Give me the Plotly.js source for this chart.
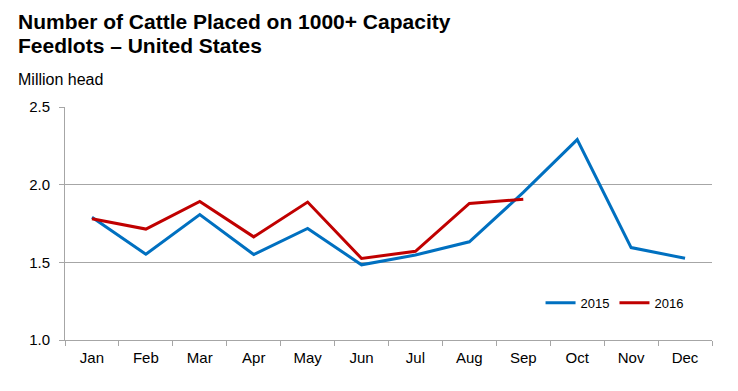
<!DOCTYPE html>
<html>
<head>
<meta charset="utf-8">
<script src="https://cdn.plot.ly/plotly-3.0.1.min.js"></script>
<style>html,body{margin:0;padding:0;background:#fff;}#chart{width:738px;height:391px;}</style>
</head>
<body>
<div id="chart"></div>
<script>
const months = ["Jan","Feb","Mar","Apr","May","Jun","Jul","Aug","Sep","Oct","Nov","Dec"];
const values2015 = [1.79, 1.552, 1.807, 1.55, 1.718, 1.484, 1.547, 1.632, 1.95, 2.29, 1.595, 1.526];
const values2016 = [1.78, 1.714, 1.892, 1.664, 1.888, 1.525, 1.571, 1.879, 1.906];
const months2016 = months.slice(0, values2016.length);
const yTicks = [1.0, 1.5, 2.0, 2.5];

const font = "Liberation Sans, Arial, sans-serif";
const traces = [
  {x: months, y: values2015, type: "scatter", mode: "lines", name: "2015",
   line: {color: "#0070C0", width: 3}},
  {x: months2016, y: values2016, type: "scatter", mode: "lines", name: "2016",
   line: {color: "#C00000", width: 3}}
];
const layout = {
  width: 738, height: 391,
  margin: {l: 65, r: 26, t: 107, b: 51},
  paper_bgcolor: "#fff", plot_bgcolor: "#fff",
  font: {family: font, size: 15, color: "#000"},
  showlegend: true,
  legend: {orientation: "h", x: 0.735, y: 0.16, xanchor: "left", yanchor: "middle",
           font: {family: font, size: 13, color: "#000"}, itemwidth: 30, bgcolor: "rgba(0,0,0,0)"},
  xaxis: {type: "category", categoryorder: "array", categoryarray: months,
          range: [-0.5, 11.5], tickson: "boundaries", ticks: "outside", ticklen: 5,
          tickcolor: "#A6A6A6", showline: true, linecolor: "#A6A6A6", linewidth: 1,
          showgrid: false, zeroline: false, ticklabelstandoff: 4,
          tickfont: {family: font, size: 15, color: "#000"}},
  yaxis: {range: [1.0, 2.5], tickvals: yTicks, ticktext: yTicks.map(v => v.toFixed(1)),
          ticks: "outside", ticklen: 5, tickcolor: "#A6A6A6", ticklabelstandoff: 6,
          showline: true, linecolor: "#A6A6A6", linewidth: 1,
          showgrid: true, gridcolor: "#A6A6A6", gridwidth: 1, zeroline: false,
          tickfont: {family: font, size: 15, color: "#000"}},
  annotations: [
    {text: "<b>Number of Cattle Placed on 1000+ Capacity</b>",
     xref: "paper", yref: "paper", x: -0.0757, y: 1.365, xanchor: "left", yanchor: "middle",
     align: "left", showarrow: false, font: {family: font, size: 21, color: "#000"}},
    {text: "<b>Feedlots – United States</b>",
     xref: "paper", yref: "paper", x: -0.0757, y: 1.262, xanchor: "left", yanchor: "middle",
     align: "left", showarrow: false, font: {family: font, size: 21, color: "#000"}},
    {text: "Million head", xref: "paper", yref: "paper", x: -0.0757, y: 1.116,
     xanchor: "left", yanchor: "middle", showarrow: false,
     font: {family: font, size: 16, color: "#000"}}
  ]
};
Plotly.newPlot("chart", traces, layout, {displayModeBar: false, staticPlot: true});
</script>
</body>
</html>
